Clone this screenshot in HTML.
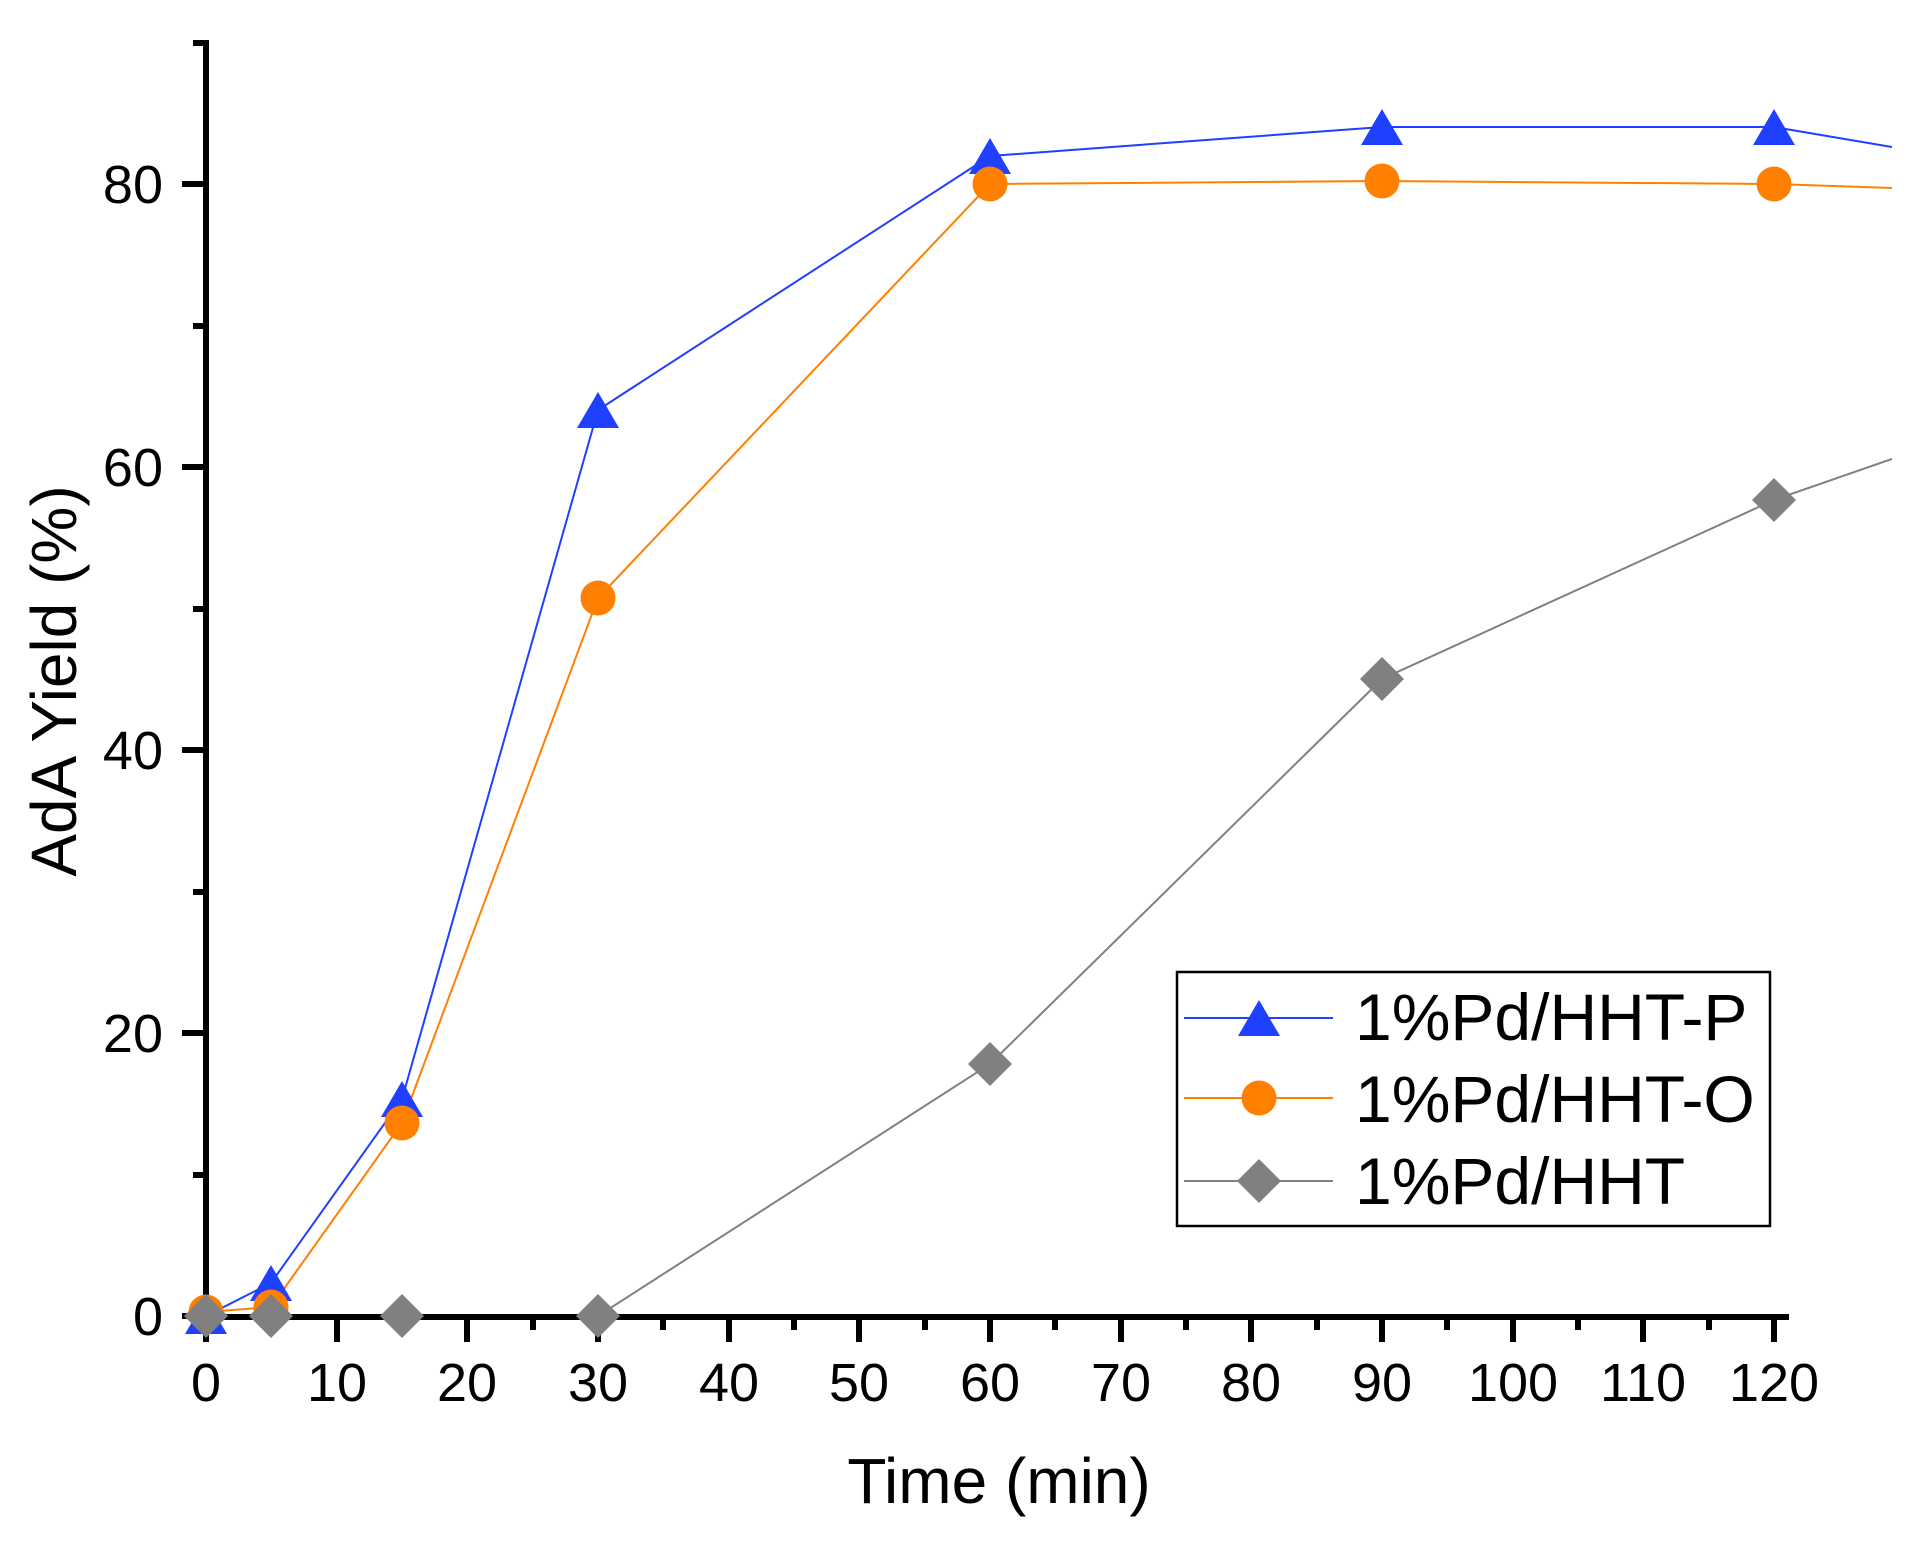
<!DOCTYPE html>
<html><head><meta charset="utf-8"><style>
html,body{margin:0;padding:0;background:#fff;}
svg{display:block;}
text{font-family:"Liberation Sans",Arial,sans-serif;fill:#000;}
</style></head><body>
<svg width="1919" height="1548" viewBox="0 0 1919 1548" xmlns="http://www.w3.org/2000/svg">
<defs>
<clipPath id="c"><rect x="150" y="0" width="1742" height="1400"/></clipPath>
<g id="tri"><polygon points="0,-22 21,14 -21,14" fill="#2040ff"/></g>
<g id="cir"><circle r="17.5" fill="#ff8000"/></g>
<g id="dia"><polygon points="0,-22 22,0 0,22 -22,0" fill="#808080"/></g>
</defs>
<g clip-path="url(#c)" fill="none" stroke-width="2">
<polyline stroke="#2040ff" points="206,1316 271,1283 402,1099 598,410 990,156 1382,127 1774,127 1892,147"/>
<polyline stroke="#ff8000" points="206,1312 271,1307 402,1123 598,598 990,184 1382,181 1774,184 1892,188"/>
<polyline stroke="#808080" points="206,1316 271,1316 402,1316 598,1316 990,1064 1382,679 1774,500 1892,459"/>
</g>
<g stroke="#000" stroke-width="6" fill="none">
<line x1="206" y1="40" x2="206" y2="1319"/>
<line x1="203" y1="1317" x2="1789" y2="1317"/>
<path d="M182,184H206 M182,467H206 M182,750H206 M182,1033H206 M182,1316H206"/>
<path d="M193,43H206 M193,326H206 M193,609H206 M193,892H206 M193,1175H206"/>
<path d="M206,1317V1342 M337,1317V1342 M467,1317V1342 M598,1317V1342 M729,1317V1342 M859,1317V1342 M990,1317V1342 M1121,1317V1342 M1251,1317V1342 M1382,1317V1342 M1513,1317V1342 M1643,1317V1342 M1774,1317V1342"/>
<path d="M271,1317V1330 M402,1317V1330 M533,1317V1330 M663,1317V1330 M794,1317V1330 M925,1317V1330 M1055,1317V1330 M1186,1317V1330 M1317,1317V1330 M1447,1317V1330 M1578,1317V1330 M1709,1317V1330"/>
</g>
<g>
<use href="#tri" x="206" y="1320"/><use href="#tri" x="271" y="1287"/><use href="#tri" x="402" y="1103"/><use href="#tri" x="598" y="414"/><use href="#tri" x="990" y="160"/><use href="#tri" x="1382" y="131"/><use href="#tri" x="1774" y="131"/>
<use href="#cir" x="206" y="1312"/><use href="#cir" x="271" y="1307"/><use href="#cir" x="402" y="1123"/><use href="#cir" x="598" y="598"/><use href="#cir" x="990" y="184"/><use href="#cir" x="1382" y="181"/><use href="#cir" x="1774" y="184"/>
<use href="#dia" x="206" y="1316"/><use href="#dia" x="271" y="1316"/><use href="#dia" x="402" y="1316"/><use href="#dia" x="598" y="1316"/><use href="#dia" x="990" y="1064"/><use href="#dia" x="1382" y="679"/><use href="#dia" x="1774" y="500"/>
</g>
<g font-size="54" text-anchor="end">
<text x="163" y="203">80</text><text x="163" y="486">60</text><text x="163" y="769">40</text><text x="163" y="1052">20</text><text x="163" y="1335">0</text>
</g>
<g font-size="54" text-anchor="middle">
<text x="206" y="1401">0</text><text x="337" y="1401">10</text><text x="467" y="1401">20</text><text x="598" y="1401">30</text><text x="729" y="1401">40</text><text x="859" y="1401">50</text><text x="990" y="1401">60</text><text x="1121" y="1401">70</text><text x="1251" y="1401">80</text><text x="1382" y="1401">90</text><text x="1513" y="1401">100</text><text x="1643" y="1401">110</text><text x="1774" y="1401">120</text>
</g>
<text x="999" y="1503" font-size="64" text-anchor="middle">Time (min)</text>
<text transform="translate(76,681) rotate(-90)" font-size="64" text-anchor="middle">AdA Yield (%)</text>
<rect x="1177" y="972" width="593" height="254" fill="#fff" stroke="#000" stroke-width="2.5"/>
<line x1="1184" y1="1018" x2="1333" y2="1018" stroke="#2040ff" stroke-width="2"/>
<use href="#tri" x="1259" y="1022"/>
<line x1="1184" y1="1098" x2="1333" y2="1098" stroke="#ff8000" stroke-width="2"/>
<use href="#cir" x="1259" y="1098"/>
<line x1="1184" y1="1181" x2="1333" y2="1181" stroke="#808080" stroke-width="2"/>
<use href="#dia" x="1259" y="1181"/>
<g font-size="66">
<text x="1355" y="1040">1%Pd/HHT-P</text>
<text x="1355" y="1122">1%Pd/HHT-O</text>
<text x="1355" y="1204">1%Pd/HHT</text>
</g>
</svg>
</body></html>
